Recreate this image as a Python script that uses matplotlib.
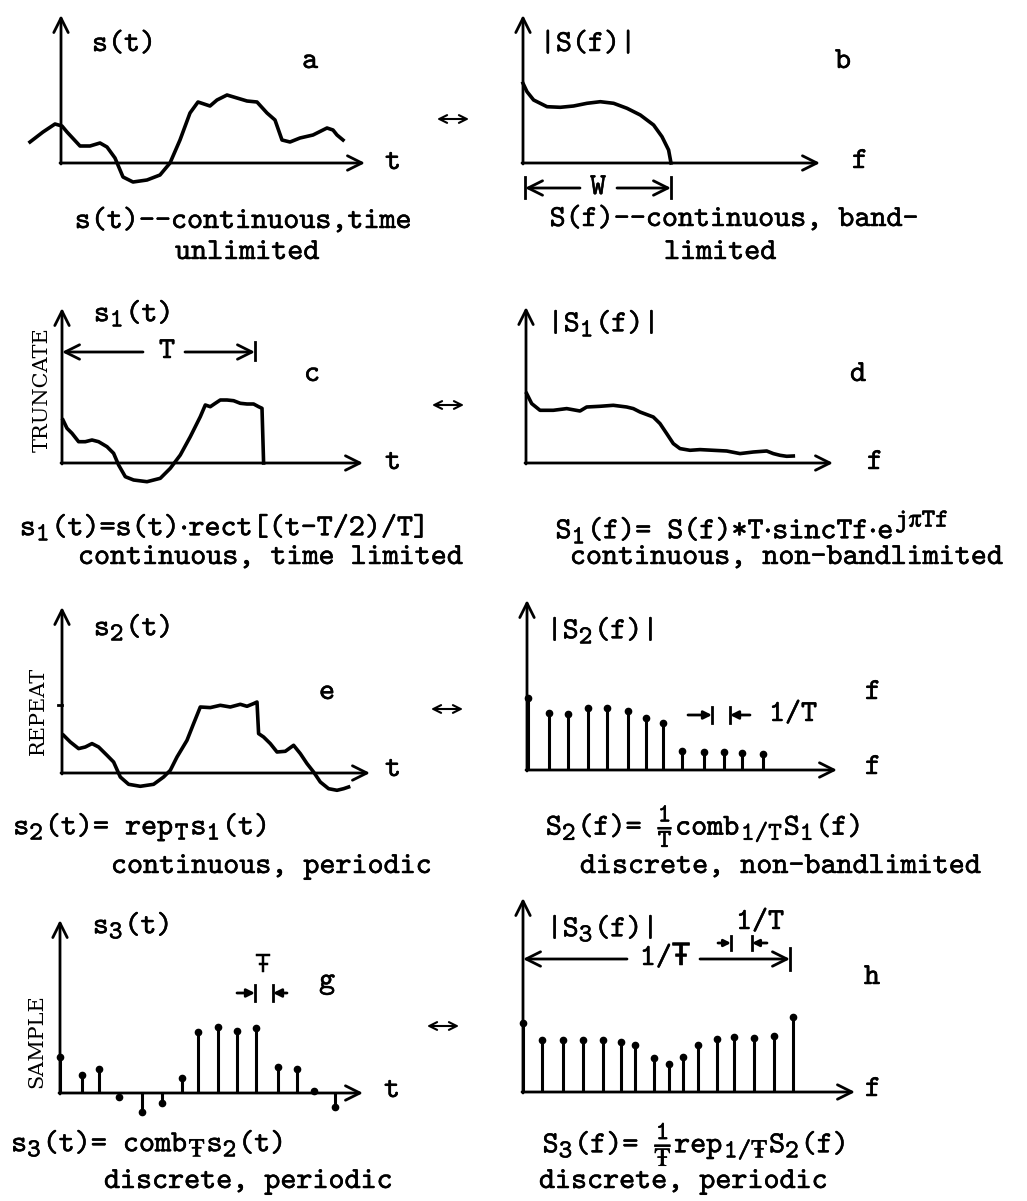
import matplotlib
matplotlib.use('Agg')
import matplotlib.pyplot as plt
import matplotlib.patheffects as pe
import matplotlib._mathtext as mathtext_internal

plt.rcParams['font.family'] = ['cmtt10', 'DejaVu Sans Mono']
plt.rcParams['mathtext.fontset'] = 'custom'
plt.rcParams['mathtext.rm'] = 'cmtt10'
plt.rcParams['mathtext.it'] = 'cmtt10'
plt.rcParams['mathtext.tt'] = 'cmtt10'
plt.rcParams['mathtext.fallback'] = 'stix'
plt.rcParams['axes.unicode_minus'] = False
# typewritten subscripts are nearly full size
mathtext_internal.SHRINK_FACTOR = 0.85

W, H = 1027, 1201
TBAR = '\u0166'

# values (arbitrary units, origin at each panel's axes)
a_t = [-31, -18, -6, 1, 6, 19, 29, 39, 46, 54, 62, 72, 86, 99, 109, 119, 129, 137, 149,
       156, 166, 176, 186, 196, 206, 214, 221, 229, 239, 252, 266, 272, 276, 282]
a_s = [21, 31, 39, 37, 31, 17, 17, 20, 16, 5, -14, -19, -17, -12, 0, 23, 50, 61, 57,
       63, 68, 65, 62, 61, 50, 43, 23, 21, 25, 28, 35, 33, 28, 23]

b_f = [0, 4, 10.6, 24, 37.3, 50.6, 64, 77.3, 90.6, 104, 117.3, 130.6, 139, 145.6, 148]
b_S = [79.7, 71.3, 63, 56.3, 55.7, 57, 59.7, 61.3, 59.7, 54.7, 48, 38, 26.3, 13, 0]

c_t = [1, 5, 10, 16.6, 23.3, 30, 36.6, 45, 51.6, 56.6, 63.3, 71.6, 85, 98.3, 108.3, 118.3,
       128.3, 138.3, 143.3, 148.3, 153.3, 158.3, 165, 171.6, 178.3, 185, 191.6, 196.6, 200, 201.6]
c_s = [43, 34.7, 29.7, 21.3, 21.3, 23, 21.3, 16.3, 9.7, -2, -13.7, -17, -18.7, -15.3, -5.3, 8,
       26.3, 46.3, 58, 56.3, 59.7, 63, 63, 62.3, 59.7, 59, 59, 56.3, 54.7, 0]

d_f = [0.7, 5.7, 14, 27.3, 40.7, 54, 60.7, 74, 87.3, 100.7, 107.3, 114, 127.3, 134, 140.7,
       147.3, 154, 164, 174, 187.3, 200.7, 214, 227.3, 240.7, 247.3, 254, 260.7, 267.3]
d_S = [69.4, 59.4, 52.7, 52.7, 54.4, 52, 56, 56.7, 57.7, 56, 54.4, 51, 46, 39.4, 29.4,
       19.4, 14.4, 12.7, 13.4, 12.7, 12, 9.4, 11, 12, 9.4, 7.7, 6.7, 7]

e_t = [1.6, 8.3, 16.6, 23.3, 30, 36.6, 45, 51.6, 58.3, 66.6, 78.3, 91.6, 101.6, 108.3, 115,
       125, 131.6, 138.3, 148.3, 158.3, 168.3, 178.3, 185, 191.6, 195, 196.6, 201.6, 208.3,
       215, 223.3, 231.6, 238.3, 245, 251.6, 258.3, 266.6, 275, 281.6, 286.6]
e_s = [37.7, 31, 24.4, 26, 29.4, 26, 17.7, 11, -4, -11.3, -13.3, -11.3, -4, 2.7, 16,
       32.7, 49.4, 66, 65.4, 67.7, 66, 68.7, 66.7, 69.4, 71, 39.4, 36, 29.4,
       21, 21.7, 27.7, 19.4, 9.4, 1, -9, -15.7, -17.3, -15.7, -14]

f_f = [0.6, 21.6, 41, 60.6, 80, 101, 119, 135.6, 155, 176.6, 196.6, 215, 236]
f_S = [71.7, 56.7, 56, 61.7, 62.3, 59, 52.3, 46.7, 19, 18.3, 18.3, 17.3, 16]

g_t = [0, 21.7, 39.3, 59.3, 81.7, 101.7, 121.7, 138.3, 158.3, 177.3, 195.7, 217.7, 236.7, 254.3, 275]
g_s = [36.3, 18, 23.7, -3.7, -18.7, -10.3, 14.7, 61.3, 66.3, 62.3, 64.7, 25.7, 23.7, 2.3, -13.7]

h_f = [0, 19, 39.6, 60, 80, 98, 112.3, 130.6, 145.6, 160, 174.6, 194, 211.3, 230.6, 250.6, 270]
h_S = [69, 51.6, 52.3, 51.6, 52.3, 50, 47.3, 34, 28, 34.6, 46.6, 53, 54.6, 54, 56.3, 74.6]

FS = 22
LW_AX = 2.0
LW_CURVE = 2.6
INK = [pe.withStroke(linewidth=0.35, foreground='k')]


def make_panel(fig, ox, oy):
    # one data unit = one pixel, origin at the panel's axes corner
    ax = fig.add_axes([(ox - 80) / W, 1 - (oy + 120) / H, 560 / W, 340 / H])
    ax.set_xlim(-80, 480)
    ax.set_ylim(-120, 220)
    ax.axis('off')
    return ax


def arrow(ax, x0, y0, x1, y1, style='->', ms=26, lw=LW_AX):
    ax.annotate('', xy=(x1, y1), xytext=(x0, y0),
                arrowprops=dict(arrowstyle=style, lw=lw, color='k', mutation_scale=ms,
                                shrinkA=0, shrinkB=0))


def frame(ax, xtip, ytip):
    arrow(ax, 0, -1, 0, ytip)
    arrow(ax, -1, 0, xtip, 0)


def bar(ax, x, y0, y1):
    ax.plot([x, x], [y0, y1], color='k', lw=LW_AX)


def txt(ax, x, y, s, size=FS, **kw):
    ax.text(x, y, s, fontsize=size, ha='center', va='center', path_effects=INK, **kw)


def side(ax, x, y, s):
    ax.text(x, y, s, fontsize=15, ha='center', va='center', rotation=90,
            family=['DejaVu Serif'])


def stems(ax, x, h):
    ml, sl, bl = ax.stem(x, h, linefmt='k-', markerfmt='ko', basefmt=' ')
    plt.setp(sl, lw=2.2)
    plt.setp(ml, ms=4.5)


def swap(ax, x, y):
    arrow(ax, x - 16, y, x + 16, y, style='<->', ms=14, lw=1.5)


fig = plt.figure(figsize=(W / 100, H / 100), dpi=100)

# a
ax = make_panel(fig, 61, 163)
frame(ax, 304, 148)
ax.plot(a_t, a_s, color='k', lw=LW_CURVE)
txt(ax, 63, 118, 's(t)')
txt(ax, 249, 101, 'a')
txt(ax, 332, 0, 't')
txt(ax, 182, -59, 's(t)--continuous,time')
txt(ax, 186, -90, 'unlimited')
swap(ax, 392, 44)

# b
ax = make_panel(fig, 523, 163)
frame(ax, 297, 148)
ax.plot(b_f, b_S, color='k', lw=LW_CURVE)
txt(ax, 65, 118, '|S(f)|')
txt(ax, 320, 101, 'b')
txt(ax, 337, 1, 'f')
arrow(ax, 57, -25, 2, -25)
arrow(ax, 94, -25, 148, -25)
bar(ax, 2, -14, -35)
bar(ax, 148, -14, -35)
txt(ax, 75, -25, 'W')
txt(ax, 211, -57, 'S(f)--continuous, band-')
txt(ax, 197, -90, 'limited')

# c
ax = make_panel(fig, 62, 463)
frame(ax, 301, 155)
ax.plot(c_t, c_s, color='k', lw=LW_CURVE)
txt(ax, 70, 150, '$s_1$(t)')
side(ax, -20, 73, 'TRUNCATE')
txt(ax, 250, 88, 'c')
txt(ax, 331, 0, 't')
arrow(ax, 81, 111, 0, 111)
arrow(ax, 123, 111, 193, 111)
bar(ax, 193, 103, 121)
txt(ax, 105, 111, 'T')
txt(ax, 160, -64, r'$s_1$(t)=s(t)$\cdot$rect[(t-T/2)/T]')
txt(ax, 208, -95, 'continuous, time limited')
swap(ax, 386, 58)

# d
ax = make_panel(fig, 526, 463)
frame(ax, 307, 156)
ax.plot(d_f, d_S, color='k', lw=LW_CURVE)
txt(ax, 75, 140, '|$S_1$(f)|')
txt(ax, 332, 88, 'd')
txt(ax, 349, 0, 'f')
txt(ax, 226, -64, r'$S_1$(f)= S(f)*T$\cdot$sincTf$\cdot$e$^{j\pi Tf}$')
txt(ax, 260, -95, 'continuous, non-bandlimited')

# e
ax = make_panel(fig, 62, 773)
frame(ax, 308, 166)
ax.plot(e_t, e_s, color='k', lw=LW_CURVE)
ax.plot([-4, 0], [68, 68], color='k', lw=LW_AX)
txt(ax, 70, 146, '$s_2$(t)')
side(ax, -24, 62, 'REPEAT')
txt(ax, 265, 80, 'e')
txt(ax, 331, 3, 't')
txt(ax, 78, -54, '$s_2$(t)= rep$_T$$s_1$(t)')
txt(ax, 209, -94, 'continuous, periodic')
swap(ax, 385, 64)

# f
ax = make_panel(fig, 527, 770)
frame(ax, 310, 170)
stems(ax, f_f, f_S)
txt(ax, 73, 140, '|$S_2$(f)|')
txt(ax, 346, 77, 'f')
txt(ax, 346, 2, 'f')
arrow(ax, 161, 55, 185, 55, style='-|>', ms=12)
bar(ax, 185, 47, 63)
arrow(ax, 223, 55, 203, 55, style='-|>', ms=12)
bar(ax, 203, 47, 63)
txt(ax, 266, 55, '1/T')
txt(ax, 176, -55, r'$S_2$(f)= $\frac{1}{T}$comb$_{1/T}$$S_1$(f)')
txt(ax, 253, -97, 'discrete, non-bandlimited')

# g
ax = make_panel(fig, 60, 1093)
frame(ax, 303, 173)
stems(ax, g_t, g_s)
txt(ax, 71, 168, '$s_3$(t)')
side(ax, -23, 52, 'SAMPLE')
txt(ax, 267, 111, 'g')
txt(ax, 332, 2, 't')
txt(ax, 203, 128, TBAR, size=18, family=['DejaVu Sans Mono'])
arrow(ax, 177, 100, 195, 100, style='-|>', ms=12)
bar(ax, 195, 92, 108)
arrow(ax, 227, 100, 213, 100, style='-|>', ms=12)
bar(ax, 213, 92, 108)
txt(ax, 87, -50, '$s_3$(t)= comb$_{' + TBAR + '}$$s_2$(t)')
txt(ax, 188, -89, 'discrete, periodic')
swap(ax, 383, 67)

# h
ax = make_panel(fig, 523, 1092)
frame(ax, 332, 194)
stems(ax, h_f, h_S)
txt(ax, 77, 164, '|$S_3$(f)|')
txt(ax, 349, 114, 'h')
txt(ax, 350, 2, 'f')
arrow(ax, 104, 133, 0, 133)
arrow(ax, 177, 133, 267, 133)
bar(ax, 267, 122, 144)
txt(ax, 142, 133, '1/' + TBAR)
txt(ax, 237, 169, '1/T')
arrow(ax, 195, 149, 208, 149, style='-|>', ms=10)
bar(ax, 208, 142, 156)
arrow(ax, 244, 149, 229, 149, style='-|>', ms=10)
bar(ax, 229, 142, 156)
txt(ax, 171, -51, '$S_3$(f)= $\\frac{1}{' + TBAR + '}$rep$_{1/' + TBAR + '}$$S_2$(f)')
txt(ax, 160, -90, 'discrete, periodic')

fig.savefig('out.png', dpi=100)
